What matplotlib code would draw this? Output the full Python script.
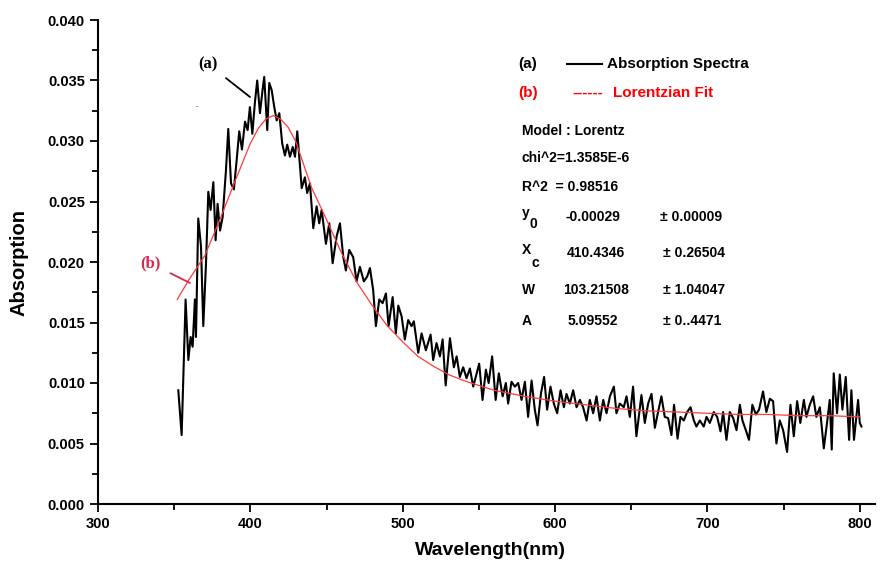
import numpy as np
import matplotlib
matplotlib.use("Agg")
import matplotlib.pyplot as plt
from matplotlib.ticker import MultipleLocator, FormatStrFormatter
from matplotlib.lines import Line2D

plt.rcParams['font.family'] = ['Liberation Sans', 'DejaVu Sans']
plt.rcParams['font.weight'] = 'bold'

wavelength = [
    352.7, 354.9, 357.5, 359.3, 360.8, 362.1, 363.6, 364.3, 365.8, 367.6,
    369.1, 370.9, 372.4, 373.9, 375.7, 377.2, 378.5, 380.1, 381.8, 384.0,
    385.5, 387.3, 389.2, 391.0, 392.7, 394.5, 396.5, 398.2, 399.7, 401.3,
    403.0, 404.5, 406.3, 408.0, 409.1, 411.1, 412.4, 414.0, 415.7, 417.3,
    419.0, 420.9, 422.7, 424.2, 426.0, 427.8, 429.3, 430.8,
    433.7, 435.8, 437.3, 439.1, 441.3, 443.5, 445.2, 446.8, 449.6, 451.8,
    454.0, 456.6, 458.8, 461.0, 462.7, 464.9, 467.5, 469.7, 471.9, 474.5,
    476.7, 478.5, 480.6, 482.4, 484.6, 486.8, 489.0, 490.7, 493.4, 495.5,
    497.1, 499.3, 501.4, 503.6, 505.8, 507.3, 510.2, 512.4, 515.2, 518.3,
    520.0, 522.2, 524.4, 526.2, 528.2, 531.0, 533.6, 535.4, 537.5, 539.7,
    541.9, 544.1, 546.3, 550.2, 552.4, 554.6, 556.4, 558.7, 561.0, 563.1,
    565.6, 567.7, 569.2, 571.4, 573.6, 575.8, 578.0, 580.2, 582.3, 584.6,
    586.7, 588.5, 590.7, 592.8, 594.8, 597.0, 599.2, 601.4, 603.6, 605.8,
    607.5, 609.7, 611.9, 614.1, 616.3, 618.4, 620.7, 622.8, 625.0, 627.2,
    629.4, 631.6, 633.8, 636.0, 638.6, 640.3, 642.5, 645.1, 646.9, 649.1,
    651.2, 653.4,
    656.7, 658.9, 661.1, 663.3, 665.5, 667.6, 669.8, 672.0, 674.2, 676.4,
    678.1, 680.4, 682.3, 684.5, 686.7, 688.9, 691.1, 692.8, 695.0, 697.6,
    699.4, 701.6, 704.2, 706.4, 708.6, 710.3, 712.5, 714.7, 716.9, 719.1,
    721.3, 723.0, 725.2, 727.3, 729.5, 731.8, 733.9, 736.5, 738.7, 741.0,
    743.1, 745.3, 747.5, 749.7, 752.3, 754.5, 756.7, 758.9, 761.0, 763.3,
    765.0, 767.2, 769.4, 771.5, 773.8, 776.4, 778.5, 780.3, 781.6, 782.9,
    785.1, 786.9, 788.6, 790.8, 793.0, 794.5, 796.2, 798.9, 800.0, 801.1,
]
absorption = [
    0.0094, 0.0057, 0.0169, 0.0119, 0.0138, 0.0130, 0.0169, 0.0138, 0.0236, 0.0213,
    0.0147, 0.0199, 0.0258, 0.0243, 0.0266, 0.0218, 0.0248, 0.0226, 0.0237, 0.0276,
    0.0310, 0.0265, 0.0260, 0.0284, 0.0308, 0.0293, 0.0316, 0.0309, 0.0328, 0.0306,
    0.0332, 0.0350, 0.0323, 0.0342, 0.0353, 0.0309, 0.0348, 0.0342, 0.0328, 0.0317,
    0.0323, 0.0298, 0.0288, 0.0297, 0.0287, 0.0295, 0.0287, 0.0308,
    0.0261, 0.0270, 0.0257, 0.0265, 0.0228, 0.0246, 0.0232, 0.0243, 0.0215, 0.0232,
    0.0199, 0.0221, 0.0232, 0.0204, 0.0193, 0.0210, 0.0204, 0.0184, 0.0196, 0.0184,
    0.0188, 0.0195, 0.0177, 0.0147, 0.0169, 0.0166, 0.0174, 0.0147, 0.0171, 0.0141,
    0.0164, 0.0155, 0.0136, 0.0152, 0.0147, 0.0151, 0.0125, 0.0141, 0.0127, 0.0140,
    0.0119, 0.0133, 0.0122, 0.0136, 0.0098, 0.0137, 0.0113, 0.0122, 0.0105, 0.0113,
    0.0104, 0.0112, 0.0097, 0.0116, 0.0086, 0.0111, 0.0100, 0.0122, 0.0086, 0.0108,
    0.0089, 0.0100, 0.0083, 0.0101, 0.0097, 0.0100, 0.0086, 0.0101, 0.0072, 0.0102,
    0.0078, 0.0065, 0.0091, 0.0105, 0.0078, 0.0097, 0.0083, 0.0075, 0.0094, 0.0080,
    0.0091, 0.0083, 0.0094, 0.0080, 0.0086, 0.0080, 0.0069, 0.0086, 0.0075, 0.0089,
    0.0069, 0.0086, 0.0075, 0.0089, 0.0097, 0.0075, 0.0083, 0.0080, 0.0089, 0.0072,
    0.0097, 0.0056,
    0.0090, 0.0067, 0.0083, 0.0091, 0.0063, 0.0076, 0.0089, 0.0072, 0.0071, 0.0057,
    0.0082, 0.0054, 0.0072, 0.0069, 0.0076, 0.0080, 0.0069, 0.0064, 0.0069, 0.0064,
    0.0072, 0.0067, 0.0076, 0.0072, 0.0060, 0.0076, 0.0053, 0.0076, 0.0071, 0.0061,
    0.0082, 0.0069, 0.0061, 0.0053, 0.0082, 0.0074, 0.0078, 0.0093, 0.0076, 0.0087,
    0.0085, 0.0050, 0.0069, 0.0061, 0.0043, 0.0082, 0.0056, 0.0085, 0.0067, 0.0086,
    0.0072, 0.0082, 0.0089, 0.0072, 0.0080, 0.0046, 0.0067, 0.0086, 0.0045, 0.0108,
    0.0075, 0.0107, 0.0078, 0.0105, 0.0053, 0.0094, 0.0053, 0.0086, 0.0067, 0.0064,
]

# Lorentzian fit curve
fit_wl = [352, 360, 370, 380, 390, 400, 405, 410, 415, 420, 425, 430, 440,
          450, 460, 470, 480, 490, 500, 510, 520, 530, 540, 550, 560, 580,
          600, 620, 640, 660, 680, 700, 720, 740, 760, 780, 800]
fit_ab = [0.0169, 0.0186, 0.0205, 0.0235, 0.0267, 0.0298, 0.0310, 0.0318,
          0.0321, 0.0318, 0.0311, 0.0299, 0.0262, 0.0235, 0.0207, 0.0183,
          0.0164, 0.0147, 0.0134, 0.0122, 0.0114, 0.0107, 0.0102, 0.0098,
          0.0094, 0.0089, 0.0085, 0.0082, 0.0079, 0.0077, 0.0076, 0.0075,
          0.0074, 0.0074, 0.0073, 0.0073, 0.0072]

fig = plt.figure(figsize=(8.88, 5.66), dpi=100)
ax = fig.add_axes([98/888, 62/566, 777/888, 484/566])

ax.plot(wavelength, absorption, color='black', lw=1.5)
ax.plot(fit_wl, fit_ab, color='#ff3b3b', lw=0.9)

ax.set_xlim(300, 810)
ax.set_ylim(0, 0.040)
ax.xaxis.set_major_locator(MultipleLocator(100))
ax.xaxis.set_minor_locator(MultipleLocator(50))
ax.yaxis.set_major_locator(MultipleLocator(0.005))
ax.yaxis.set_minor_locator(MultipleLocator(0.0025))
ax.yaxis.set_major_formatter(FormatStrFormatter('%.3f'))
ax.spines['top'].set_visible(False)
ax.spines['right'].set_visible(False)
for s in ['left', 'bottom']:
    ax.spines[s].set_linewidth(1.5)
ax.tick_params(which='major', direction='out', length=6, width=1.3, labelsize=10.5)
ax.tick_params(which='minor', direction='out', length=4, width=1.3)
for lab in ax.get_xticklabels() + ax.get_yticklabels():
    lab.set_fontweight('bold')

ax.set_xlabel('Wavelength(nm)', fontsize=14, fontweight='bold')
ax.set_ylabel('Absorption', fontsize=14.5, fontweight='bold')
ax.xaxis.set_label_coords(0.505, -0.078)
ax.yaxis.set_label_coords(-0.09, 0.5)


def pos(x, y):
    # pixel position in the picture -> axes fraction
    return ((x - 98) / 777, (504 - y) / 484)


def put(x, y, s, size=10, color='black', **kw):
    ax.text(*pos(x, y), s, transform=ax.transAxes, fontsize=size,
            fontweight='bold', color=color, ha='left', va='center', **kw)


# legend-like text block
put(518, 64, '(a)', 11)
ax.add_line(Line2D([pos(567, 64)[0], pos(602, 64)[0]], [pos(567, 64)[1]] * 2,
                   transform=ax.transAxes, color='black', lw=1.5))
put(607, 64, 'Absorption Spectra', 11)
put(518, 93, '(b)', 11, 'red')
put(572, 93, '------', 11, 'red')
put(613, 93, 'Lorentzian Fit', 11, 'red')

put(522, 131, 'Model : Lorentz')
put(522, 158, 'chi^2=1.3585E-6')
put(522, 187, 'R^2  = 0.98516')
put(522, 213, 'y')
put(529, 224, '0')
put(565, 217, '-0.00029')
put(660, 217, '± 0.00009')
put(522, 250, 'X')
put(531, 263, 'c')
put(567, 253, '410.4346')
put(663, 253, '± 0.26504')
put(522, 290, 'W')
put(563, 290, '103.21508')
put(663, 290, '± 1.04047')
put(522, 321, 'A')
put(568, 321, '5.09552')
put(663, 321, '± 0..4471')

# curve labels
ax.annotate('(a)', xy=pos(250, 97), xycoords='axes fraction',
            xytext=pos(208, 64), textcoords='axes fraction',
            fontsize=12, fontweight='bold', family='Liberation Serif',
            ha='center', va='center',
            arrowprops=dict(arrowstyle='-', color='black', lw=1.3,
                            shrinkA=5, shrinkB=0))
ax.annotate('(b)', xy=pos(190, 283), xycoords='axes fraction',
            xytext=pos(150, 263), textcoords='axes fraction',
            fontsize=12, fontweight='bold', family='Liberation Serif',
            color='#d42a4e', ha='center', va='center',
            arrowprops=dict(arrowstyle='-', color='#d42a4e', lw=1.3,
                            shrinkA=6, shrinkB=0))
put(196, 107, '-', 5, '#e0204a')

fig.savefig('out.png', dpi=100)
